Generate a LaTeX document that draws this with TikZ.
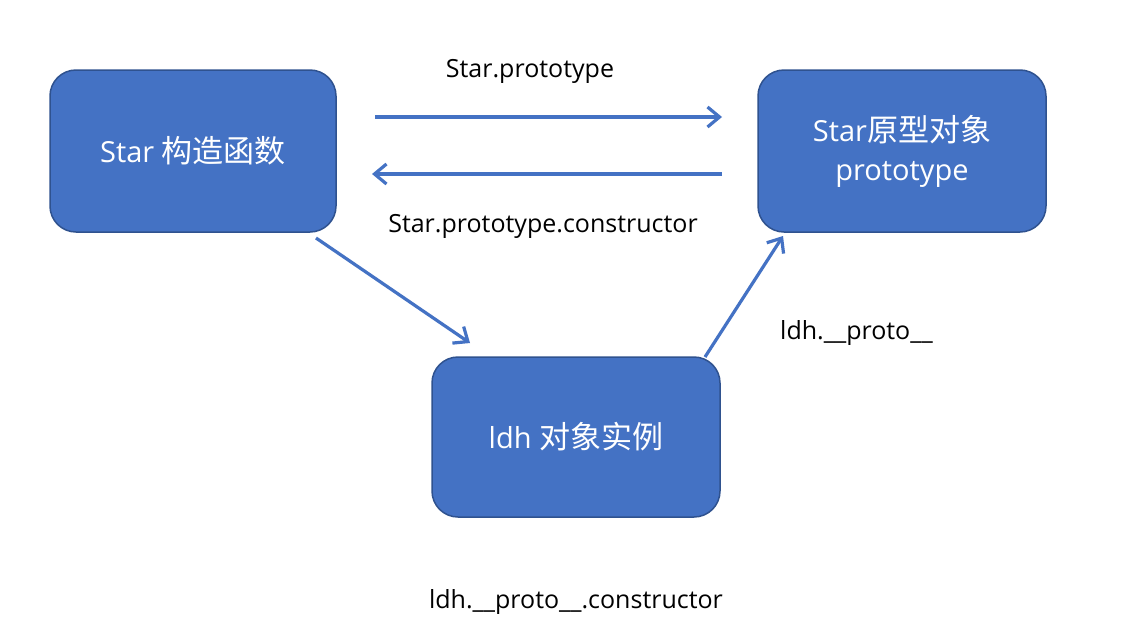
\documentclass[tikz,border=0pt]{standalone}
\usepackage{fontspec}
\setmainfont{Open Sans}
\newfontfamily\cjk[Scale=1.07]{Noto Sans CJK SC}
\usetikzlibrary{arrows.meta}
\definecolor{boxfill}{HTML}{4472C4}
\definecolor{boxline}{HTML}{2F528F}
\definecolor{arrowc}{HTML}{4472C4}
\tikzset{
  box/.style={draw=boxline, line width=1.5pt, fill=boxfill, rounded corners=26pt, text=white, font=\fontsize{29}{39}\selectfont, align=center, inner sep=0pt},
  link/.style={draw=arrowc, line width=3.2pt, -{Straight Barb[length=12pt,width=20pt,line width=3.2pt]}},
  lbl/.style={font=\fontsize{25}{30}\selectfont, text=black, inner sep=0pt}
}
\begin{document}
\begin{tikzpicture}[x=1pt,y=-1pt]
\useasboundingbox[fill=white] (0,0) rectangle (1131,643);
\node[box, minimum width=286pt, minimum height=162pt] (star) at (193,151) {Star {\cjk 构造函数}};
\node[box, minimum width=288pt, minimum height=162pt] (proto) at (902,151) {Star{\cjk 原型对象}\\prototype};
\node[box, minimum width=288pt, minimum height=160pt] (ldh) at (576,437) {ldh {\cjk 对象实例}};
\coordinate (a1s) at (375,117); \coordinate (a1e) at (722,117);
\coordinate (a2s) at (722,174); \coordinate (a2e) at (372,174);
\coordinate (a3s) at (316,238); \coordinate (a3e) at (470,343);
\coordinate (a4s) at (705,357); \coordinate (a4e) at (783,236);
\draw[link] (a1s) -- (a1e);
\draw[link] (a2s) -- (a2e);
\draw[link] (a3s) -- (a3e);
\draw[link] (a4s) -- (a4e);
\node[lbl] (l1) at (530,71) {Star.prototype};
\node[lbl] (l2) at (543,226) {Star.prototype.constructor};
\node[lbl, anchor=west] (l3) at (780,333) {ldh.\_\_proto\_\_};
\node[lbl] (l4) at (576,602) {ldh.\_\_proto\_\_.constructor};
\end{tikzpicture}
\end{document}
